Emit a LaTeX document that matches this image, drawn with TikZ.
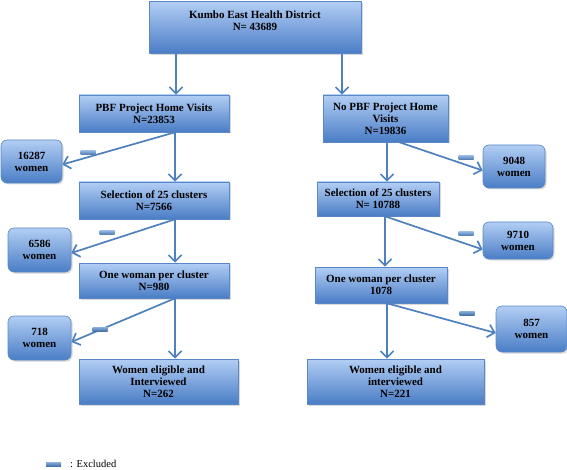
\documentclass[tikz,border=0pt]{standalone}
\usepackage{fontspec}
\setmainfont{Liberation Serif}
\usetikzlibrary{arrows.meta,positioning,shadows}
\definecolor{BoxTop}{HTML}{B2CEF4}
\definecolor{BoxBottom}{HTML}{4A7DC6}
\definecolor{BoxLine}{HTML}{5A88C6}
\definecolor{ArrowBlue}{HTML}{4F81BD}

\tikzset{
  flowbox/.style={draw=BoxLine,line width=0.6pt,top color=BoxTop,bottom color=BoxBottom,
    align=center,font=\bfseries\fontsize{11}{12}\selectfont,inner sep=1pt,
    drop shadow={opacity=0.3,shadow xshift=1.5pt,shadow yshift=-1.5pt}},
  exclbox/.style={flowbox,rounded corners=6pt},
  flowarrow/.style={draw=ArrowBlue,line width=1.7pt,-{Straight Barb[length=6.5pt,width=13pt,line width=1.7pt]}},
  minusbar/.style={draw=none,top color=BoxTop!60!ArrowBlue,bottom color=ArrowBlue!90!black,
    minimum width=15pt,minimum height=4pt,inner sep=0pt}
}

\begin{document}
\begin{tikzpicture}[x=1pt,y=-1pt]
  \useasboundingbox (0,0) rectangle (567,470);

  % main boxes
  \node[flowbox,minimum width=212pt,minimum height=52pt,anchor=north] (top) at (255,1)
    {Kumbo East Health District\\N= 43689\\[2pt]\mbox{}};
  \node[flowbox,minimum width=150pt,minimum height=37pt] (pbf) at (154,113.5)
    {PBF Project Home Visits\\N=23853};
  \node[flowbox,minimum width=150pt,minimum height=37pt] (sell) at (154,200.5)
    {Selection of 25 clusters\\N=7566};
  \node[flowbox,minimum width=150pt,minimum height=35pt] (onel) at (154,280.5)
    {One woman per cluster\\N=980};
  \node[flowbox,minimum width=159pt,minimum height=45pt] (elil) at (158.5,381.5)
    {Women eligible and\\Interviewed\\N=262};
  \node[flowbox,minimum width=125pt,minimum height=47pt] (nopbf) at (385.5,118.5)
    {No PBF Project Home\\Visits\\N=19836};
  \node[flowbox,minimum width=122pt,minimum height=34pt] (selr) at (378,199)
    {Selection of 25 clusters\\N= 10788};
  \node[flowbox,minimum width=132pt,minimum height=36pt] (oner) at (381,285)
    {One woman per cluster\\1078};
  \node[flowbox,minimum width=177pt,minimum height=45pt] (elir) at (395.5,381.5)
    {Women eligible and\\interviewed\\N=221};

  % excluded boxes
  \node[exclbox,minimum width=61pt,minimum height=43pt] (ex1) at (31.5,161.5) {16287\\women};
  \node[exclbox,minimum width=63pt,minimum height=44pt] (ex2) at (39.5,250) {6586\\women};
  \node[exclbox,minimum width=63pt,minimum height=44pt] (ex3) at (39.5,338) {718\\women};
  \node[exclbox,minimum width=62pt,minimum height=43pt] (ex4) at (514,166.5) {9048\\women};
  \node[exclbox,minimum width=70pt,minimum height=37pt] (ex5) at (518,240.5) {9710\\women};
  \node[exclbox,minimum width=71pt,minimum height=46pt] (ex6) at (531.5,329) {857\\women};

  % arrows, left branch
  \draw[flowarrow] ([xshift=22pt]pbf.north |- top.south) -- ([xshift=22pt]pbf.north);
  \draw[flowarrow] ([xshift=21pt]pbf.south) -- ([xshift=21pt]pbf.south |- sell.north);
  \draw[flowarrow] ([xshift=21pt]pbf.south) -- ([yshift=-3pt]ex1.east);
  \draw[flowarrow] ([xshift=21pt]sell.south) -- ([xshift=21pt]sell.south |- onel.north);
  \draw[flowarrow] ([xshift=21pt]sell.south) -- ([yshift=-3pt]ex2.east);
  \draw[flowarrow] ([xshift=21pt]onel.south) -- ([xshift=21pt]onel.south |- elil.north);
  \draw[flowarrow] ([xshift=21pt]onel.south) -- ([yshift=-4pt]ex3.east);

  % arrows, right branch
  \draw[flowarrow] ([xshift=-43.5pt]nopbf.north |- top.south) -- ([xshift=-43.5pt]nopbf.north);
  \draw[flowarrow] ([xshift=1.5pt]nopbf.south) -- ([xshift=1.5pt]nopbf.south |- selr.north);
  \draw[flowarrow] ([xshift=14pt]nopbf.south) -- ([yshift=-4pt]ex4.west);
  \draw[flowarrow] ([xshift=7pt]selr.south) -- ([xshift=7pt]selr.south |- oner.north);
  \draw[flowarrow] ([xshift=7pt]selr.south) -- ([yshift=-9pt]ex5.west);
  \draw[flowarrow] ([xshift=6pt]oner.south) -- ([xshift=6pt]oner.south |- elir.north);
  \draw[flowarrow] ([xshift=6pt]oner.south) -- ([yshift=-4pt]ex6.west);

  % minus signs
  \node[minusbar] (m1) at (88,153) {};
  \node[minusbar] (m2) at (107,233) {};
  \node[minusbar] (m3) at (100,329) {};
  \node[minusbar] (m4) at (466,158) {};
  \node[minusbar] (m5) at (466,234) {};
  \node[minusbar] (m6) at (467,313) {};

  % legend
  \node[minusbar] (legbar) at (53.5,464) {};
  \node[anchor=west,font=\fontsize{10.5}{12}\selectfont,inner sep=0pt] (legtext) at (70,464) {: Excluded};
\end{tikzpicture}
\end{document}
